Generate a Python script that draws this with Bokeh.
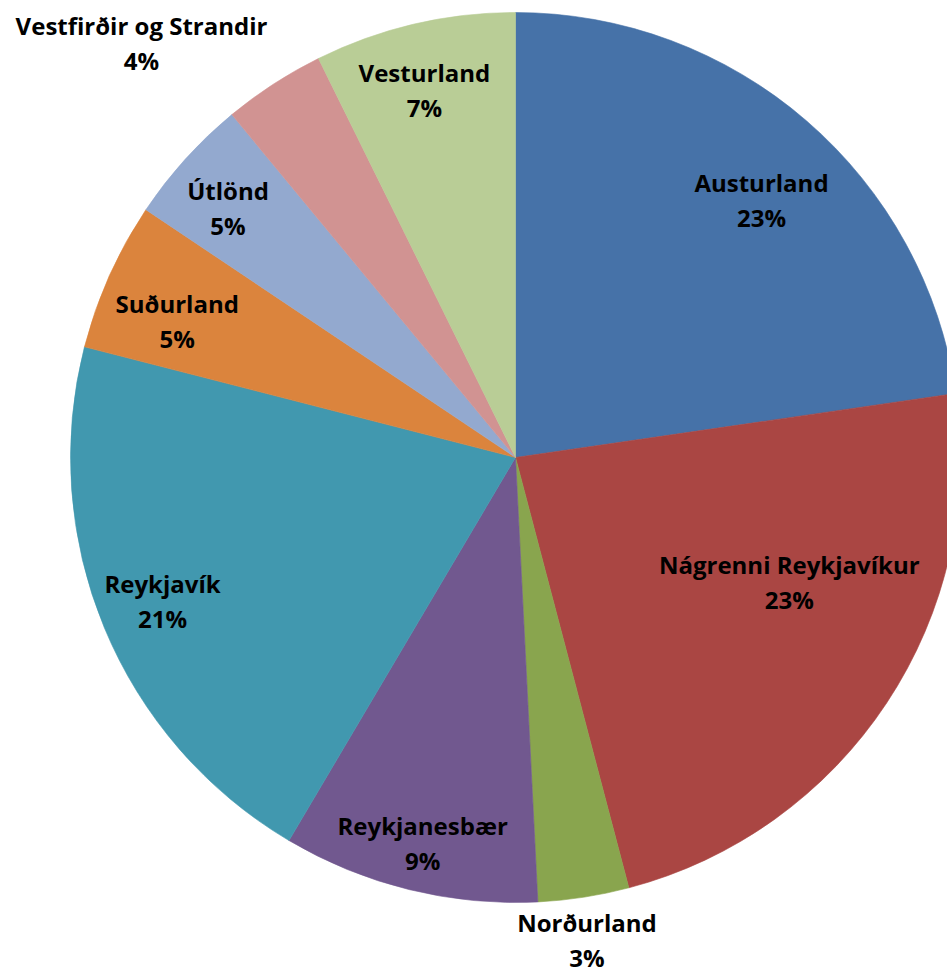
import math
from bokeh.plotting import figure
from bokeh.models import Range1d, ColumnDataSource
from bokeh.core.properties import value
from bokeh.embed import file_html
from bokeh.resources import INLINE

# ---- data ----
regions = ["Austurland", "Nágrenni Reykjavíkur", "Norðurland", "Reykjanesbær",
           "Reykjavík", "Suðurland", "Útlönd", "Vestfirðir og Strandir", "Vesturland"]
shares = [22.7, 23.2, 3.3, 9.3, 20.5, 5.4, 4.6, 3.7, 7.3]
pct_labels = ["23%", "23%", "3%", "9%", "21%", "5%", "5%", "4%", "7%"]
colors = ["#4672A8", "#AA4643", "#89A54E", "#71588F", "#4198AF",
          "#DB843D", "#93A9CF", "#D19392", "#B9CD96"]

# ---- layout (styles / positions, not data) ----
W, H = 947, 975
CX, CY, R = 515, 518, 445
label_r = [0.80, 0.676, 1.097, 0.89, 0.856, 0.82, 0.855, 1.255, 0.85]
label_nudge = [2.85, -9.0, 0.4, -0.3, 0.4, -2.1, -1.2, -9.1, -0.8]

total = sum(shares)
starts, ends, lx, ly = [], [], [], []
cum = 0.0
for i, s in enumerate(shares):
    a0 = cum / total * 360.0
    cum += s
    a1 = cum / total * 360.0
    # clockwise from 12 o'clock -> bokeh angle (ccw from +x)
    starts.append(math.radians(90 - a0))
    ends.append(math.radians(90 - a1))
    mid = (a0 + a1) / 2 + label_nudge[i]
    rr = label_r[i] * R
    lx.append(CX + rr * math.sin(math.radians(mid)))
    ly.append(CY + rr * math.cos(math.radians(mid)))

src = ColumnDataSource(dict(start=starts, end=ends, color=colors,
                            name=regions, pct=pct_labels, lx=lx, ly=ly))

p = figure(width=W, height=H, x_range=Range1d(0, W), y_range=Range1d(0, H),
           output_backend="svg", toolbar_location=None, min_border=0)
p.axis.visible = False
p.grid.visible = False
p.outline_line_color = None
p.background_fill_color = "white"
p.border_fill_color = "white"

p.wedge(x=CX, y=CY, radius=R, start_angle="start", end_angle="end",
        direction="clock", fill_color="color", line_color="color",
        line_width=0.6, source=src)

font = value("Open Sans")
for col, off in (("name", -17.5), ("pct", 17.5)):
    p.text(x="lx", y="ly", text=col, source=src, text_font=font,
           text_font_style="bold", text_font_size="24px", text_color="black",
           text_align="center", text_baseline="middle", y_offset=off)

open("out.html", "w").write(file_html(p, INLINE))
